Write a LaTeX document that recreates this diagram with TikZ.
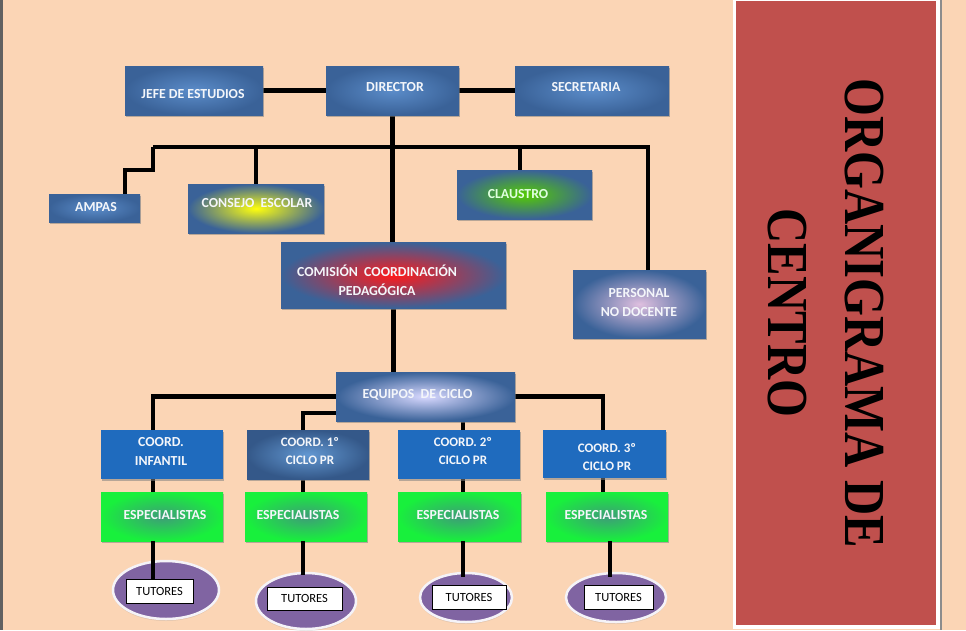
\documentclass[tikz,border=0pt]{standalone}
\usepackage{fontspec}
\setmainfont{Carlito}
\newfontfamily\titlefont[FakeStretch=0.84]{Liberation Serif}
\usetikzlibrary{shadows,shapes.geometric,backgrounds,calc}
\definecolor{peach}{HTML}{FBD5B5}
\definecolor{boxblue}{HTML}{3A6298}
\definecolor{boxlight}{HTML}{5B8CC9}
\definecolor{titlered}{HTML}{C0504D}
\definecolor{coordblue}{HTML}{1F6BBE}
\definecolor{espgreen}{HTML}{18F03C}
\definecolor{espdark}{HTML}{3E9C78}
\definecolor{tutpurple}{HTML}{8064A2}
\definecolor{lbltext}{HTML}{F4F6FA}
\begin{document}
\begin{tikzpicture}[x=1pt,y=-1pt,
  bx/.style={rectangle, inner sep=0pt, outer sep=0pt, draw=none,
    drop shadow={shadow xshift=1pt, shadow yshift=-2pt, opacity=.55}},
  bluebox/.style={bx, inner color=boxlight, outer color=boxblue},
  glowbox/.style={bx, inner color=#1, outer color=boxblue},
  flatbox/.style={bx, fill=coordblue},
  espbox/.style={bx, inner color=espdark, outer color=espgreen},
  lbl/.style={inner sep=0pt, align=center, text=lbltext,
    font=\bfseries\fontsize{13.8}{19}\selectfont},
  clbl/.style={lbl, font=\bfseries\fontsize{13}{18}\selectfont},
  tutbox/.style={rectangle, draw=black, line width=0.8pt, fill=white, inner sep=0pt,
    font=\fontsize{12.5}{14}\selectfont, minimum height=24pt},
  tutell/.style={ellipse, fill=tutpurple, draw=white!92!tutpurple, line width=2.5pt,
    inner sep=0pt, drop shadow={shadow xshift=0pt, shadow yshift=-2pt, opacity=.2}},
  conn/.style={line width=4.5pt, black}
]
\useasboundingbox (0,0) rectangle (966,630);
% title panel
\fill[white] (733,0) rectangle (940,629);
\fill[titlered] (736,1) rectangle (936,625);
\fill[black!45] (940,0) rectangle (941.5,630);
\fill[black!62] (0,0) rectangle (3,630);
\node[rotate=-90, align=center, inner sep=0pt,
  font=\titlefont\bfseries\fontsize{58}{77}\selectfont] (title) at (825.5,313)
  {ORGANIGRAMA DE\\CENTRO};

% boxes
\node[bluebox, minimum width=138pt, minimum height=49pt] (jefe) at (194,90.5) {};
\node[lbl] (jefe-t) at (193,94) {JEFE DE ESTUDIOS};
\node[bluebox, minimum width=133pt, minimum height=49pt] (director) at (392.5,90.5) {};
\node[lbl] (director-t) at (395,87) {DIRECTOR};
\node[bluebox, minimum width=154pt, minimum height=49pt] (secretaria) at (592,90.5) {};
\node[lbl] (secretaria-t) at (586,87) {SECRETARIA};
\node[bluebox, minimum width=91pt, minimum height=28pt] (ampas) at (94.5,208) {};
\node[lbl] (ampas-t) at (96,207) {AMPAS};
\node[glowbox=yellow!95!white, minimum width=136pt, minimum height=49pt] (consejo) at (256,208.5) {};
\node[lbl] (consejo-t) at (257,203) {CONSEJO\ \ ESCOLAR};
\node[glowbox=green!45!lime!80!black, minimum width=135pt, minimum height=49pt] (claustro) at (524.5,194.5) {};
\node[lbl, text=green!12!white] (claustro-t) at (518,194) {CLAUSTRO};
\node[glowbox=red!90!white, minimum width=225pt, minimum height=66pt] (comision) at (393.5,275) {};
\node[lbl] (comision-t) at (377,280.5) {COMISIÓN\ \ COORDINACIÓN\\PEDAGÓGICA};
\node[glowbox=violet!25!white, minimum width=133pt, minimum height=68pt] (personal) at (639.5,304) {};
\node[lbl] (personal-t) at (639,302.5) {PERSONAL\\NO DOCENTE};
\node[glowbox=white!85!blue, minimum width=179pt, minimum height=49pt] (equipos) at (425.5,396.5) {};
\node[lbl] (equipos-t) at (417.5,395) {EQUIPOS\ \ DE CICLO};

\node[flatbox, minimum width=122pt, minimum height=49pt] (cinf) at (162,454.5) {};
\node[lbl] (cinf-t) at (161,451.5) {COORD.\\INFANTIL};
\node[bx, inner color=coordblue!70!white, outer color=boxblue!90!black, minimum width=122pt, minimum height=49pt] (c1) at (308,454.5) {};
\node[clbl] (c1-t) at (310,451) {COORD. 1º\\CICLO PR};
\node[flatbox, minimum width=122pt, minimum height=49pt] (c2) at (459,454.5) {};
\node[clbl] (c2-t) at (463,451) {COORD. 2º\\CICLO PR};
\node[flatbox, minimum width=123pt, minimum height=48pt] (c3) at (604.5,454) {};
\node[clbl] (c3-t) at (607,457) {COORD. 3º\\CICLO PR};

\node[espbox, minimum width=122pt, minimum height=49pt] (esp1) at (162,516.5) {};
\node[lbl] (esp1-t) at (165,515) {ESPECIALISTAS};
\node[espbox, minimum width=122pt, minimum height=49pt] (esp2) at (306,516.5) {};
\node[lbl] (esp2-t) at (298,515) {ESPECIALISTAS};
\node[espbox, minimum width=123pt, minimum height=49pt] (esp3) at (459.5,516.5) {};
\node[lbl] (esp3-t) at (458,515) {ESPECIALISTAS};
\node[espbox, minimum width=122pt, minimum height=49pt] (esp4) at (607,516.5) {};
\node[lbl] (esp4-t) at (606,515) {ESPECIALISTAS};

\node[tutell, minimum width=106pt, minimum height=58pt] (ell1) at (166,590) {};
\node[tutell, minimum width=100pt, minimum height=56pt] (ell2) at (306,601) {};
\node[tutell, minimum width=92pt, minimum height=49pt] (ell3) at (466,597.5) {};
\node[tutell, minimum width=100pt, minimum height=49pt] (ell4) at (616,597.5) {};
\node[tutbox, minimum width=67pt] (tut1) at (159.5,591) {TUTORES};
\node[tutbox, minimum width=75pt, minimum height=23pt] (tut2) at (304.5,598.5) {TUTORES};
\node[tutbox, minimum width=74pt] (tut3) at (469,597) {TUTORES};
\node[tutbox, minimum width=69pt] (tut4) at (618.5,597) {TUTORES};

% connector bend points
\coordinate (busL) at (153,147);
\coordinate (bp) at (648,147);
\coordinate (a1) at (125,170);
\coordinate (a0) at (153,170);
\coordinate (bk) at (520,147);
\coordinate (e1) at (153,396.5);
\coordinate (e2) at (303,413);
\coordinate (e3) at (463,421);
\coordinate (e4) at (603,396.5);
\coordinate (x4) at (610,541);

% esp -> tutores (drawn over ellipses)
\draw[conn] (e1 |- esp1.south) -- (e1 |- tut1.north);
\draw[conn] (e2 |- esp2.south) -- ($(e2 |- ell2.north)+(0,3)$);
\draw[conn] (e3 |- esp3.south) -- ($(e3 |- ell3.north)+(0,5)$);
\draw[conn] (x4 |- esp4.south) -- ($(x4 |- ell4.north)+(0,5)$);

\begin{scope}[on background layer]
\fill[peach] (0,0) rectangle (966,630);
\draw[conn] (jefe) -- (director);
\draw[conn] (director) -- (secretaria);
\draw[conn, line join=miter] (busL) -- (bp) -- (bp |- personal.north);
\draw[conn, line join=miter] (busL) -- (a0) -- (a1) -- (a1 |- ampas.north);
\draw[conn] (consejo.north |- busL) -- (consejo.north);
\draw[conn] (bk) -- (bk |- claustro.north);
\draw[conn] (director.south) -- (director.south |- comision.north);
\draw[conn] (comision.south) -- (comision.south |- equipos.north);
\draw[conn, line join=miter] (equipos.west) -- (e1) -- (e1 |- cinf.north);
\draw[conn, line join=miter] (equipos.west |- e2) -- (e2) -- (e2 |- c1.north);
\draw[conn] (e3 |- equipos.south) -- (e3 |- c2.north);
\draw[conn, line join=miter] (equipos.east) -- (e4) -- (e4 |- c3.north);
\draw[conn] (e1 |- cinf.south) -- (e1 |- esp1.north);
\draw[conn] (e2 |- c1.south) -- (e2 |- esp2.north);
\draw[conn] (e3 |- c2.south) -- (e3 |- esp3.north);
\draw[conn] (e4 |- c3.south) -- (e4 |- esp4.north);
\end{scope}
\end{tikzpicture}
\end{document}
